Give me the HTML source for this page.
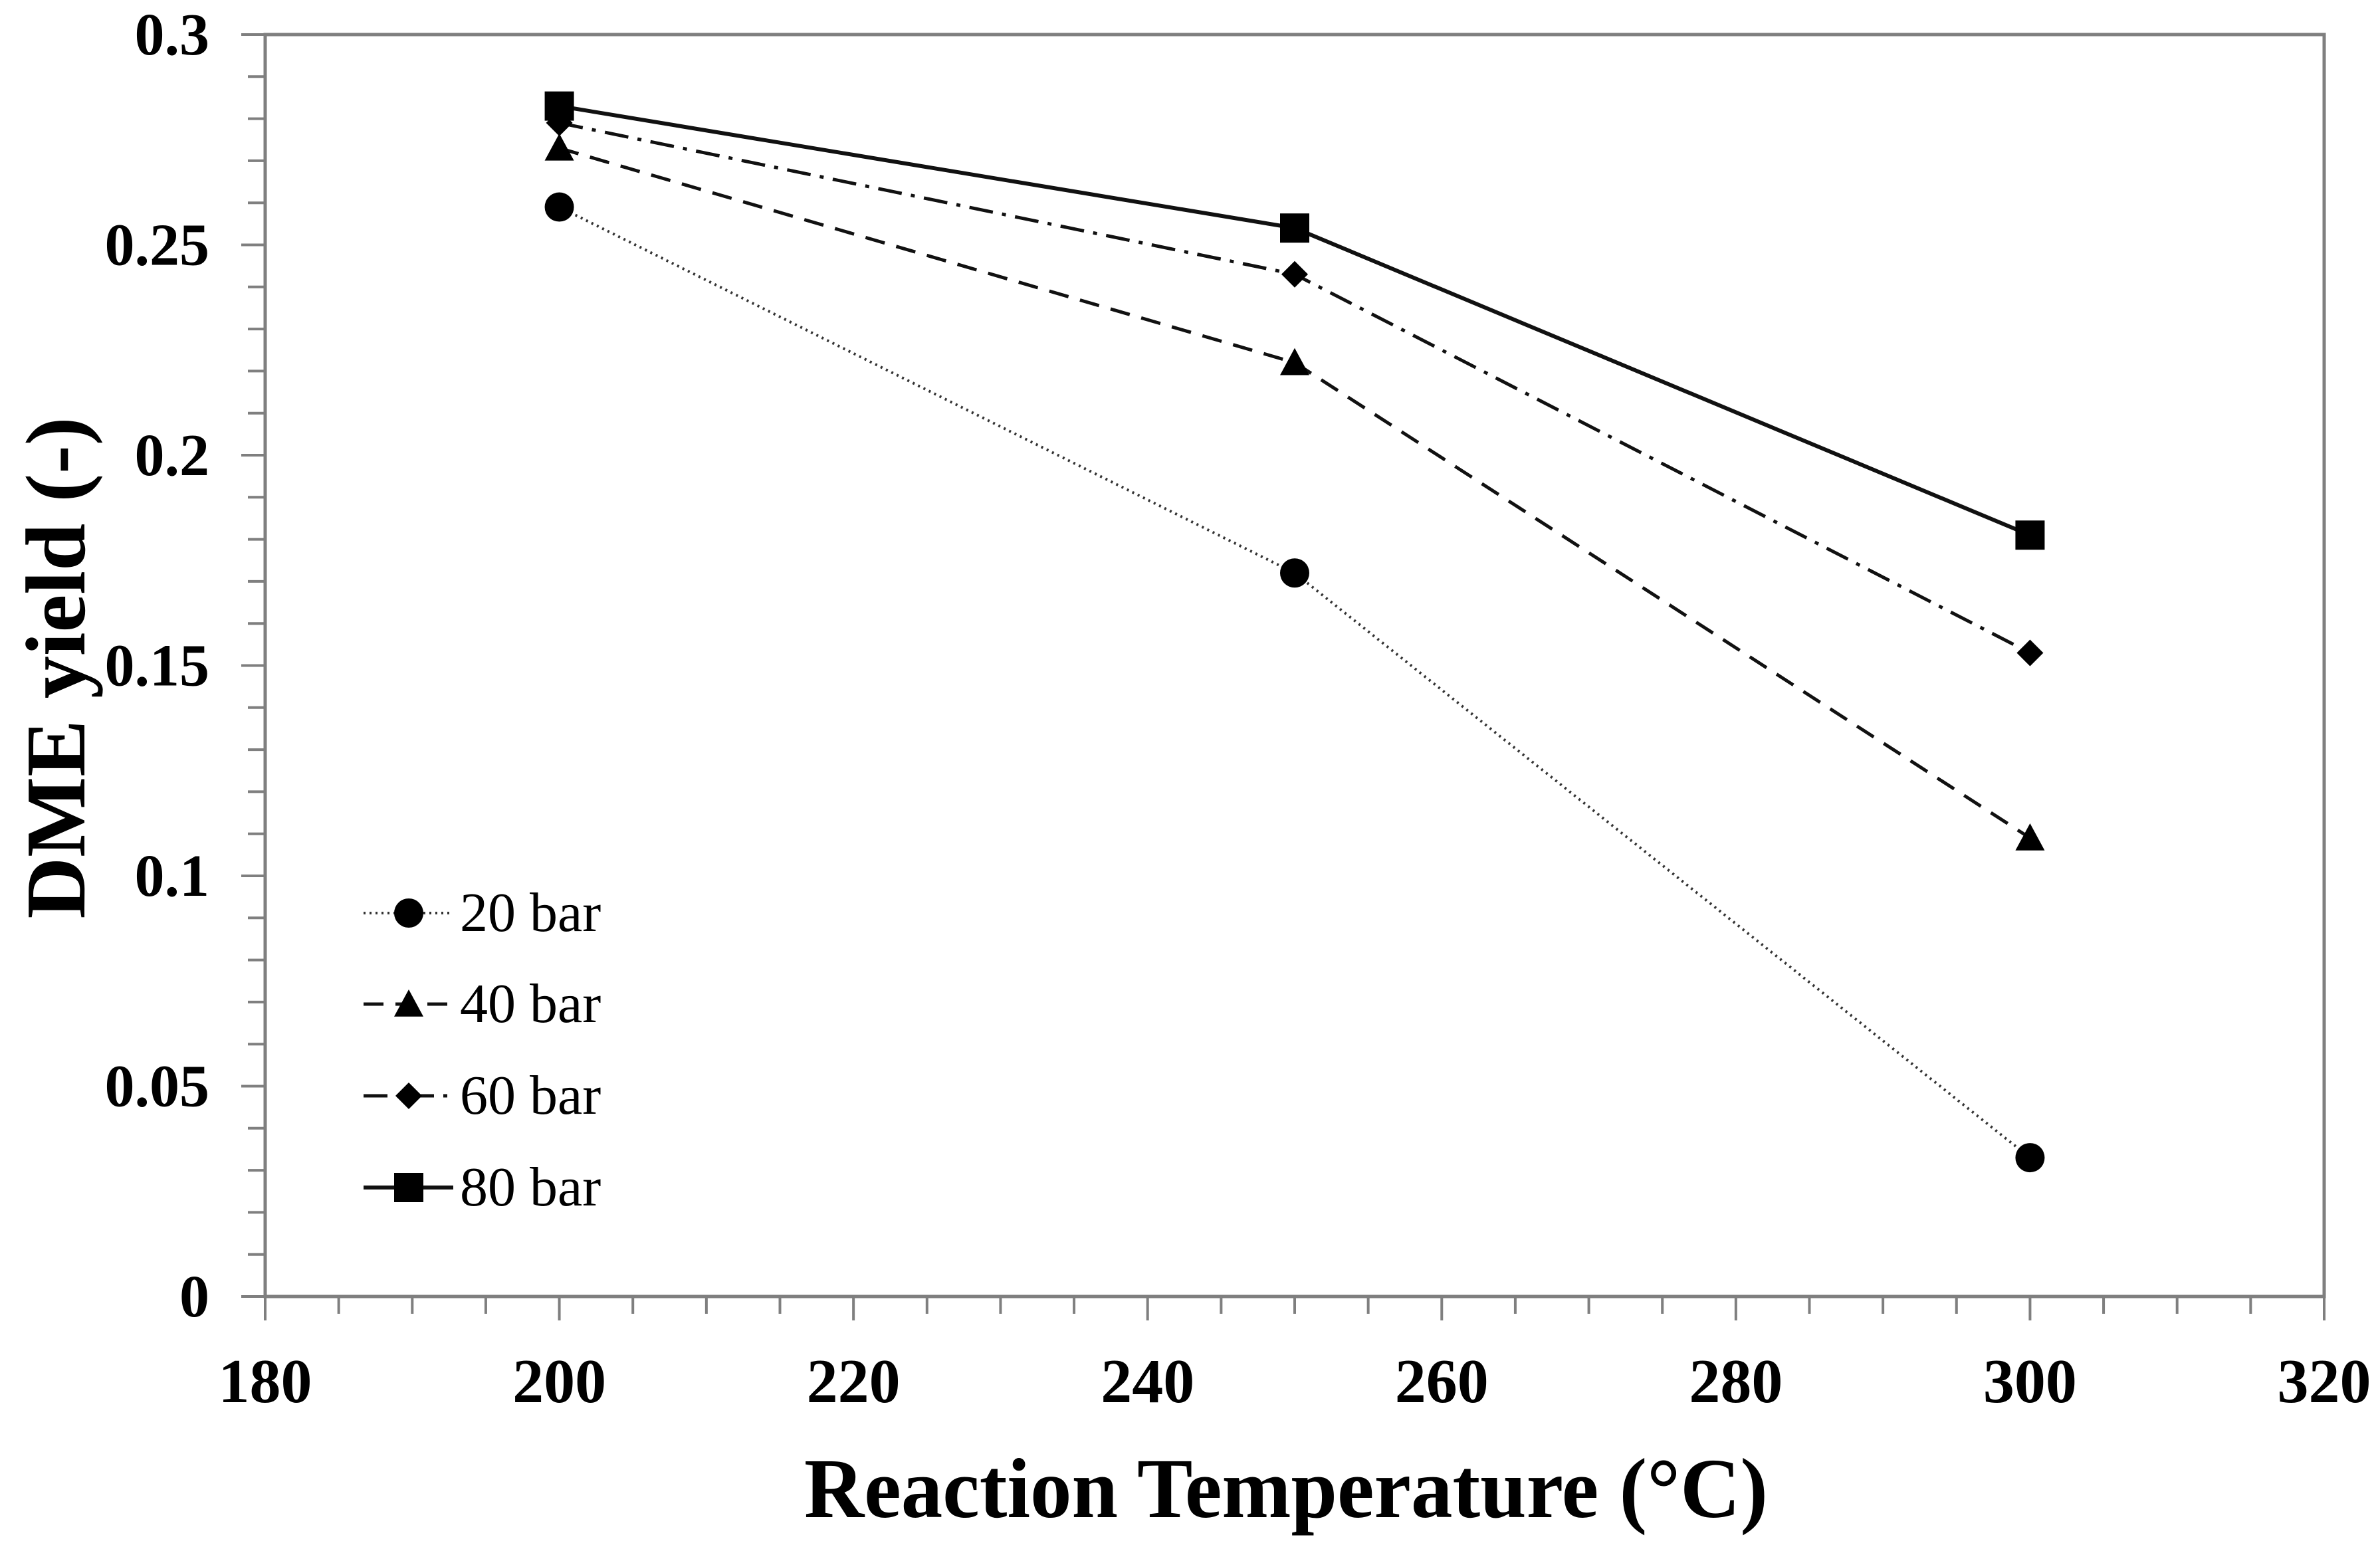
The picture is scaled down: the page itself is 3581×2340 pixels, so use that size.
<!DOCTYPE html>
<html><head><meta charset="utf-8"><style>
html,body{margin:0;padding:0;background:#fff;}
svg{display:block;}
text{font-family:"Liberation Serif",serif;fill:#000;}
</style></head><body>
<svg id="chart" width="3581" height="2340" viewBox="0 0 3581 2340" xmlns="http://www.w3.org/2000/svg">
<g id="axes"></g>
<g id="series"></g>
<g id="legend"></g>
<text x="1935" y="2283" font-size="128" font-weight="bold" text-anchor="middle" textLength="1450" lengthAdjust="spacingAndGlyphs">Reaction Temperature (°C)</text>
<text transform="translate(127,1005) rotate(-90)" font-size="128" font-weight="bold" text-anchor="middle" textLength="755" lengthAdjust="spacingAndGlyphs">DME yield (-)</text>
</svg>
<script>
const temperatures = [200, 250, 300];
const yield20 = [0.259, 0.172, 0.033];
const yield40 = [0.273, 0.222, 0.109];
const yield60 = [0.279, 0.243, 0.153];
const yield80 = [0.283, 0.254, 0.181];
const seriesNames = ["20 bar", "40 bar", "60 bar", "80 bar"];
const xTickLabels = ["180","200","220","240","260","280","300","320"];
const yTickLabels = ["0","0.05","0.1","0.15","0.2","0.25","0.3"];

const NS = "http://www.w3.org/2000/svg";
const L = 399, R = 3497, T = 52, B = 1951;
const xMin = 180, xMax = 320, yMin = 0, yMax = 0.3;
function xs(v){ return L + (v - xMin) / (xMax - xMin) * (R - L); }
function ys(v){ return B - (v - yMin) / (yMax - yMin) * (B - T); }
function mk(tag, attrs, parent){
  const e = document.createElementNS(NS, tag);
  for (const k in attrs) e.setAttribute(k, attrs[k]);
  parent.appendChild(e);
  return e;
}
const axes = document.getElementById('axes');
const AX = "#7f7f7f";
const frame = mk('rect', {x:L, y:T, width:R-L, height:B-T, fill:'none', stroke:AX, 'stroke-width':5}, axes);


for (let v = xMin; v <= xMax + 0.001; v += 5) {
  const major = Math.abs(v % 20) < 0.001;
  const t = mk('line', {x1:xs(v), x2:xs(v), y1:B, y2:B + (major ? 36 : 26), stroke:AX, 'stroke-width':4}, axes);
  
  
}
xTickLabels.forEach(function(lab){
  const v = parseFloat(lab);
  const t = mk('text', {x:xs(v), y:2110, 'font-size':94, 'font-weight':'bold', 'text-anchor':'middle'}, axes);
  t.textContent = lab;
  
  
});
for (let i = 0; i <= 30; i++) {
  const v = i / 100;
  const major = i % 5 === 0;
  const t = mk('line', {x1:L - (major ? 36 : 26), x2:L, y1:ys(v), y2:ys(v), stroke:AX, 'stroke-width':4}, axes);
  
  
}
yTickLabels.forEach(function(lab){
  const v = parseFloat(lab);
  const t = mk('text', {x:315, y:ys(v) + 30, 'font-size':90, 'font-weight':'bold', 'text-anchor':'end'}, axes);
  t.textContent = lab;
  
  
});

const styles = [
  {data: yield20, dash: '3,6', w: 4, marker: 'circle', color:'#333'},
  {data: yield40, dash: '30,18', w: 5, marker: 'triangle', color:'#111'},
  {data: yield60, dash: '36,14,6,14', w: 5, marker: 'diamond', color:'#111'},
  {data: yield80, dash: '', w: 6, marker: 'square', color:'#111'}
];
function marker(type, cx, cy, parent, scale){
  scale = scale || 1;
  let e;
  if (type === 'circle') e = mk('circle', {cx:cx, cy:cy, r:22*scale, fill:'#000'}, parent);
  else if (type === 'square') e = mk('rect', {x:cx-22*scale, y:cy-22*scale, width:44*scale, height:44*scale, fill:'#000'}, parent);
  else if (type === 'triangle') { const s = 22*scale; e = mk('polygon', {points:(cx)+','+(cy-s)+' '+(cx+s)+','+(cy+s*0.85)+' '+(cx-s)+','+(cy+s*0.85), fill:'#000'}, parent); }
  else { const s = 20*scale; e = mk('polygon', {points:cx+','+(cy-s)+' '+(cx+s)+','+cy+' '+cx+','+(cy+s)+' '+(cx-s)+','+cy, fill:'#000'}, parent); }
  return e;
}
const sg = document.getElementById('series');
styles.forEach(function(s, si){
  const pts = s.data.map(function(v, i){ return xs(temperatures[i]) + ',' + ys(v); }).join(' ');
  const pl = mk('polyline', {points:pts, fill:'none', stroke:s.color, 'stroke-width':s.w, 'stroke-dasharray':s.dash}, sg);
  
  
  s.data.forEach(function(v, i){
    const m = marker(s.marker, xs(temperatures[i]), ys(v), sg);
    
    
  });
});
const lg = document.getElementById('legend');
const rowY = [1374, 1511, 1649, 1787];
styles.forEach(function(s, si){
  const g = mk('g', {}, lg);
  
  
  mk('line', {x1:547, x2:682, y1:rowY[si], y2:rowY[si], stroke:s.color, 'stroke-width':s.w, 'stroke-dasharray':s.dash}, g);
  marker(s.marker, 615, rowY[si], g, 1);
  const t = mk('text', {x:692, y:rowY[si] + 27, 'font-size':84}, g);
  t.textContent = seriesNames[si];
});
</script>
</body></html>
